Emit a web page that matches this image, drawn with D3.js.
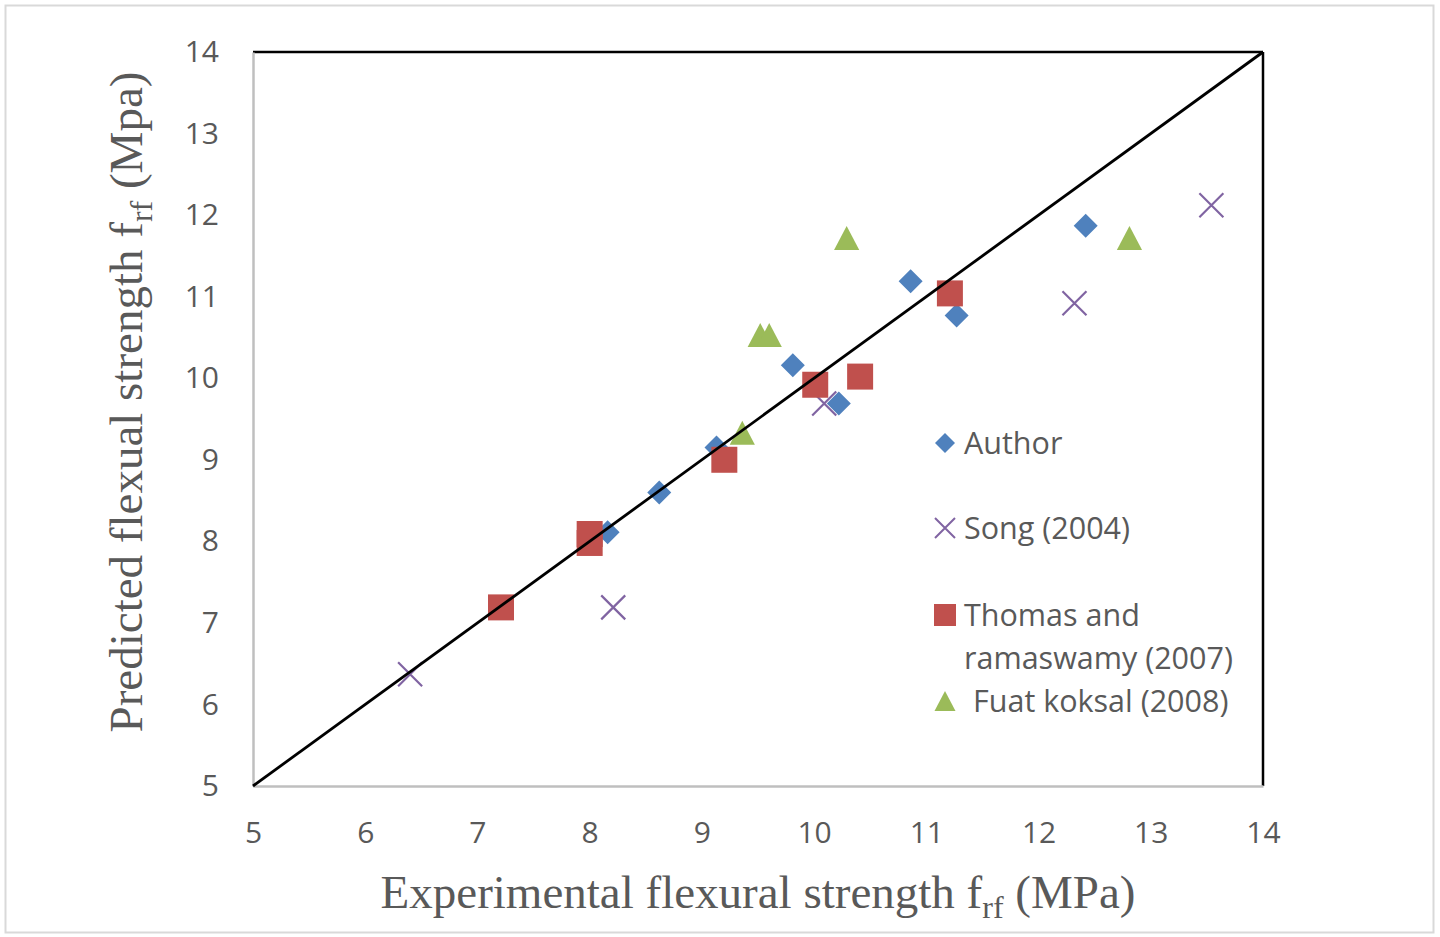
<!DOCTYPE html>
<html>
<head>
<meta charset="utf-8">
<script src="https://d3js.org/d3.v7.min.js"></script>
<style>
  body { margin: 0; background: #fff; }
  svg { display: block; }
</style>
</head>
<body>
<svg width="1440" height="937"></svg>
<script>
// data
var authorX = [8.16, 8.62, 9.13, 9.81, 10.22, 10.86, 11.27, 12.42];
var authorY = [8.11, 8.60, 9.15, 10.16, 9.69, 11.19, 10.77, 11.87];

var songX = [6.40, 8.21, 10.09, 12.32, 13.54];
var songY = [6.37, 7.19, 9.69, 10.92, 12.12];

var thomasX = [7.21, 8.00, 8.00, 9.20, 10.01, 10.41, 11.21];
var thomasY = [7.19, 8.09, 7.98, 9.00, 9.92, 10.02, 11.04];

var fuatX = [9.36, 9.52, 9.60, 10.29, 12.81];
var fuatY = [9.33, 10.53, 10.53, 11.72, 11.72];

var lineX = [5, 14];
var lineY = [5, 14];

var ticks = [5, 6, 7, 8, 9, 10, 11, 12, 13, 14];

var svg = d3.select("svg");
var labelFont = "'Open Sans', Lato, sans-serif";

// outer chart frame
svg.append("rect")
   .attr("x", 5.5).attr("y", 5.5)
   .attr("width", 1428).attr("height", 927)
   .style("fill", "#fff")
   .style("stroke", "#d9d9d9")
   .style("stroke-width", 2);

var xs = d3.scaleLinear().domain([5, 14]).range([253, 1263]);
var ys = d3.scaleLinear().domain([5, 14]).range([786, 52]);

// top and right black border
svg.append("line")
   .attr("x1", xs(5)).attr("x2", xs(14)).attr("y1", ys(14)).attr("y2", ys(14))
   .style("stroke", "#000").style("stroke-width", 2.5);
svg.append("line")
   .attr("x1", xs(14)).attr("x2", xs(14)).attr("y1", ys(14)).attr("y2", ys(5))
   .style("stroke", "#000").style("stroke-width", 2.5);

// axes (gray lines, no tick marks)
var xAxis = svg.append("g")
   .attr("transform", "translate(0," + ys(5) + ")")
   .call(d3.axisBottom(xs).tickValues(ticks).tickSize(0).tickPadding(46).tickFormat(d3.format("d")));
var yAxis = svg.append("g")
   .attr("transform", "translate(" + xs(5) + ",0)")
   .call(d3.axisLeft(ys).tickValues(ticks).tickSize(0).tickPadding(34).tickFormat(d3.format("d")));

[xAxis, yAxis].forEach(function(a) {
    a.select(".domain").style("stroke", "#bfbfbf").style("stroke-width", 2.5);
    a.selectAll("text")
     .style("font-family", labelFont)
     .style("font-size", "30px")
     .style("fill", "#595959");
});
xAxis.selectAll("text").attr("dy", "0.35em");

// marker shapes
function diamond(s) {
    return "M0," + (-s) + "L" + s + ",0L0," + s + "L" + (-s) + ",0Z";
}
function square(s) {
    return "M" + (-s) + "," + (-s) + "h" + (2 * s) + "v" + (2 * s) + "h" + (-2 * s) + "Z";
}
function triangle(s) {
    return "M0," + (-s) + "L" + (s * 1.05) + "," + s + "L" + (-s * 1.05) + "," + s + "Z";
}
function cross(s) {
    return "M" + (-s) + "," + (-s) + "L" + s + "," + s + "M" + s + "," + (-s) + "L" + (-s) + "," + s;
}

var plot = svg.append("g");

function drawSeries(xv, yv, shape, size, color, isLine) {
    plot.append("g")
        .selectAll("path")
        .data(d3.range(xv.length))
        .enter()
        .append("path")
        .attr("transform", function(i) { return "translate(" + xs(xv[i]) + "," + ys(yv[i]) + ")"; })
        .attr("d", shape(size))
        .style("fill", isLine ? "none" : color)
        .style("stroke", isLine ? color : "none")
        .style("stroke-width", isLine ? 2.2 : 0);
}

drawSeries(songX, songY, cross, 12, "#8064a2", true);
drawSeries(authorX, authorY, diamond, 12, "#4f81bd", false);
drawSeries(thomasX, thomasY, square, 13, "#c0504d", false);
drawSeries(fuatX, fuatY, triangle, 12, "#9bbb59", false);

// 1:1 line
svg.append("line")
   .attr("x1", xs(lineX[0])).attr("y1", ys(lineY[0]))
   .attr("x2", xs(lineX[1])).attr("y2", ys(lineY[1]))
   .style("stroke", "#000").style("stroke-width", 2.8);

// legend
var legend = svg.append("g").attr("transform", "translate(945,0)");
var legItems = [
    { shape: diamond, size: 10, color: "#4f81bd", line: false, y: 443, text: ["Author"], tx: 19 },
    { shape: cross, size: 10, color: "#8064a2", line: true, y: 528, text: ["Song (2004)"], tx: 19 },
    { shape: square, size: 11, color: "#c0504d", line: false, y: 615, text: ["Thomas and", "ramaswamy (2007)"], tx: 19 },
    { shape: triangle, size: 10, color: "#9bbb59", line: false, y: 701, text: ["Fuat koksal (2008)"], tx: 28 }
];
legItems.forEach(function(d) {
    legend.append("path")
          .attr("transform", "translate(0," + d.y + ")")
          .attr("d", d.shape(d.size))
          .style("fill", d.line ? "none" : d.color)
          .style("stroke", d.line ? d.color : "none")
          .style("stroke-width", 2);
    d.text.forEach(function(t, k) {
        legend.append("text")
              .attr("x", d.tx)
              .attr("y", d.y + k * 43)
              .attr("dy", "0.35em")
              .style("font-family", labelFont)
              .style("font-size", "30.5px")
              .style("fill", "#595959")
              .text(t);
    });
});

// axis titles
var xt = svg.append("text")
   .attr("x", 758).attr("y", 908)
   .attr("text-anchor", "middle")
   .style("font-family", "'Liberation Serif', 'Times New Roman', serif")
   .style("font-size", "47px")
   .style("fill", "#595959");
xt.append("tspan").text("Experimental flexural strength f");
xt.append("tspan").attr("dy", 10).style("font-size", "32px").text("rf");
xt.append("tspan").attr("dy", -10).text(" (MPa)");

var yt = svg.append("text")
   .attr("transform", "translate(142,402) rotate(-90)")
   .attr("text-anchor", "middle")
   .style("font-family", "'Liberation Serif', 'Times New Roman', serif")
   .style("font-size", "47px")
   .style("fill", "#595959");
yt.append("tspan").text("Predicted flexual strength f");
yt.append("tspan").attr("dy", 10).style("font-size", "32px").text("rf");
yt.append("tspan").attr("dy", -10).text(" (Mpa)");
</script>
</body>
</html>
